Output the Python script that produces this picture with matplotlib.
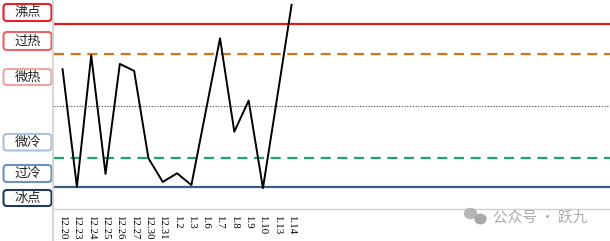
import numpy as np
import matplotlib
matplotlib.use("Agg")
import matplotlib.pyplot as plt
from matplotlib.patches import FancyBboxPatch, Ellipse
from matplotlib.lines import Line2D

plt.rcParams['font.family'] = ['Noto Sans CJK SC', 'DejaVu Sans']

# data
dates = ["12.20", "12.23", "12.24", "12.25", "12.26", "12.27", "12.30", "12.31",
         "1.2", "1.3", "1.6", "1.7", "1.8", "1.9", "1.10", "1.13", "1.14"]
values = [72.5, 0.3, 81, 8.3, 75.8, 71.5, 17.9, 3.4,
          8.7, 1.5, 46.5, 91.5, 34.2, 53.3, -0.4, 55.5, 112]

# reference levels
level_vals = [100, 82, 50, 18, 0]
level_colors = ["#e31a1c", "#d8731c", "#404040", "#1ea370", "#3f5b7f"]
level_styles = ["-", (0, (4.5, 3)), (0, (1, 1.5)), (0, (4.5, 3)), "-"]
level_widths = [1.6, 1.6, 0.8, 1.6, 1.6]

# side label boxes
box_labels = ["沸点", "过热", "微热", "微冷", "过冷", "冰点"]
box_colors = ["#e3202a", "#e86466", "#f2a3a3", "#a9c0df", "#6a90c8", "#22385e"]
box_top_px = [4, 32, 69, 134, 165, 190]
box_bot_px = [21, 50, 85, 150.5, 182, 206]

W, H = 610, 241
fig = plt.figure(figsize=(W / 100, H / 100), dpi=100)
ax = fig.add_axes([54 / W, (H - 209) / H, 1 - 54 / W, 209 / H])

x = np.arange(len(dates))
for v, c, ls, lw in zip(level_vals, level_colors, level_styles, level_widths):
    ax.axhline(v, color=c, linestyle=ls, linewidth=lw, zorder=1)

ax.plot(x, values, color="black", linewidth=1.4, zorder=3, clip_on=True)

ax.set_xlim(-0.6, 38.25)
ax.set_ylim(-13.2, 115)
ax.set_xticks(x)
ax.set_xticklabels(dates, rotation=270, fontsize=7.8, family="Liberation Serif")
ax.tick_params(axis="x", length=0, pad=4)
ax.set_yticks([])
for s in ["top", "right", "left"]:
    ax.spines[s].set_visible(False)
ax.spines["bottom"].set_color("#d0d0d0")
ax.spines["bottom"].set_linewidth(1)

# gray vertical separator
fig.add_artist(Line2D([53 / W, 53 / W], [0, 1], transform=fig.transFigure,
                      color="#d0d0d0", linewidth=1.2))

# boxes on the left, in inch coords
tr = fig.dpi_scale_trans
for lab, c, t, b in zip(box_labels, box_colors, box_top_px, box_bot_px):
    y0 = (H - b) / 100
    h = (b - t) / 100
    p = FancyBboxPatch((0.035, y0), 0.48, h, boxstyle="round,pad=0,rounding_size=0.035",
                       transform=tr, facecolor="white", edgecolor=c, linewidth=1.5)
    fig.add_artist(p)
    fig.text(0.275, y0 + h / 2, lab, transform=tr, ha="center", va="center",
             fontsize=9.5, color="#222222")

# watermark
fig.add_artist(Ellipse((4.705, (H - 213.5) / 100), 0.12, 0.10, transform=tr,
                       color="#b5b5b5"))
fig.add_artist(Ellipse((4.805, (H - 219) / 100), 0.11, 0.095, transform=tr,
                       color="#a8a8a8"))
fig.text(4.93, (H - 218) / 100, "公众号 · 跃九", transform=tr, ha="left", va="center",
         fontsize=10.5, color="#aaaaaa")

fig.savefig("out.png", dpi=100)
